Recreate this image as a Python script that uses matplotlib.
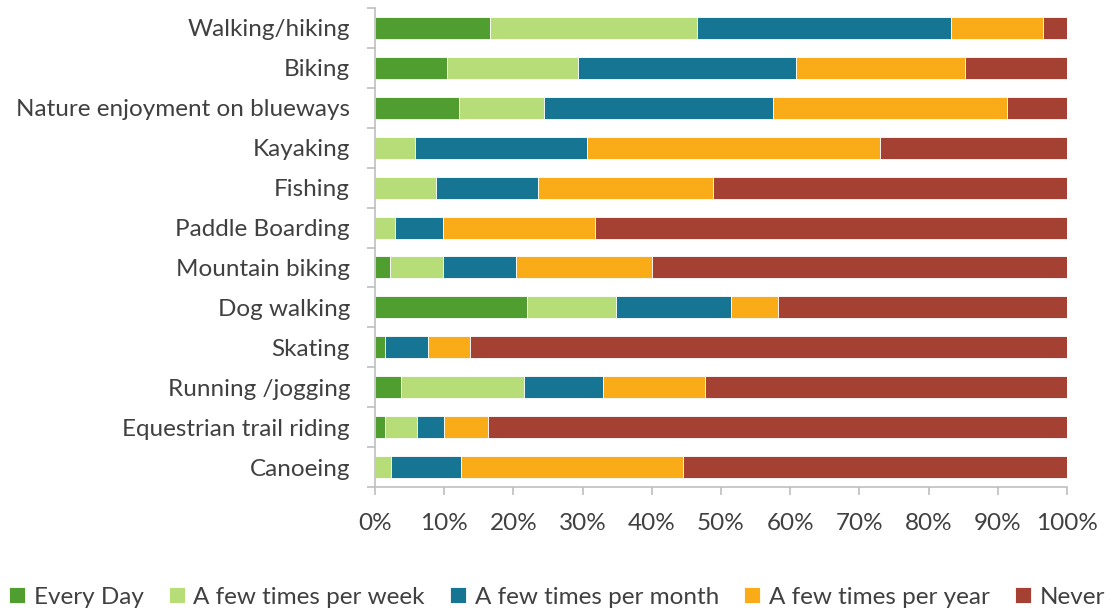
import matplotlib
matplotlib.use("Agg")
import matplotlib.pyplot as plt
import numpy as np
from matplotlib.ticker import FixedLocator, PercentFormatter

plt.rcParams['font.family'] = ['Lato', 'DejaVu Sans']

activities = [
    "Walking/hiking", "Biking", "Nature enjoyment on blueways", "Kayaking",
    "Fishing", "Paddle Boarding", "Mountain biking", "Dog walking",
    "Skating", "Running /jogging", "Equestrian trail riding", "Canoeing",
]
series_names = ["Every Day", "A few times per week", "A few times per month",
                "A few times per year", "Never"]

every_day = [16.6, 10.4, 12.2, 0.0, 0.0, 0.0, 2.1, 22.0, 1.5, 3.8, 1.4, 0.0]
per_week = [29.9, 18.9, 12.2, 5.8, 8.8, 2.9, 7.7, 12.8, 0.0, 17.7, 4.7, 2.3]
per_month = [36.8, 31.5, 33.1, 24.8, 14.8, 6.9, 10.6, 16.7, 6.1, 11.5, 3.9, 10.1]
per_year = [13.2, 24.5, 33.9, 42.4, 25.3, 22.0, 19.7, 6.8, 6.2, 14.7, 6.3, 32.1]
never = [3.5, 14.7, 8.6, 27.0, 51.1, 68.2, 59.9, 41.7, 86.2, 52.3, 83.7, 55.5]

colors = ["#509E2F", "#B7DD79", "#177594", "#FAAB18", "#A54133"]

fig = plt.figure(figsize=(11.14, 6.11), dpi=100)
ax = fig.add_axes([375 / 1114, 1 - 487 / 611, 692 / 1114, 479 / 611])

y = np.arange(len(activities))
left = np.zeros(len(activities))
for name, vals, c in zip(series_names,
                         [every_day, per_week, per_month, per_year, never],
                         colors):
    vals = np.array(vals)
    ax.barh(y, vals, left=left, height=0.55, color=c, label=name,
            edgecolor="white", linewidth=0.6)
    left += vals

fs = 17.5
ax.set_xlim(0, 100)
ax.set_ylim(len(activities) - 0.5, -0.5)
ax.set_yticks(y)
ax.set_yticklabels(activities)
ax.yaxis.set_minor_locator(FixedLocator(np.arange(-0.5, len(activities), 1)))
ax.tick_params(axis="y", which="major", length=0, pad=18, labelsize=fs,
               labelcolor="#404040")
ax.tick_params(axis="y", which="minor", length=6, color="#BFBFBF", width=1.2)
ax.set_xticks(np.arange(0, 101, 10))
ax.xaxis.set_major_formatter(PercentFormatter(decimals=0))
ax.tick_params(axis="x", length=6, color="#BFBFBF", width=1.2, labelsize=fs,
               labelcolor="#404040", pad=13)

for s in ["top", "right"]:
    ax.spines[s].set_visible(False)
for s in ["left", "bottom"]:
    ax.spines[s].set_color("#BFBFBF")
    ax.spines[s].set_linewidth(1.2)

fig.legend(loc="center", bbox_to_anchor=(0.5, 1 - 597 / 611), ncol=5,
           frameon=False, fontsize=fs, handlelength=0.65, handleheight=0.65,
           handletextpad=0.35, columnspacing=1.05, labelcolor="#404040")

fig.savefig("out.png", dpi=100)
